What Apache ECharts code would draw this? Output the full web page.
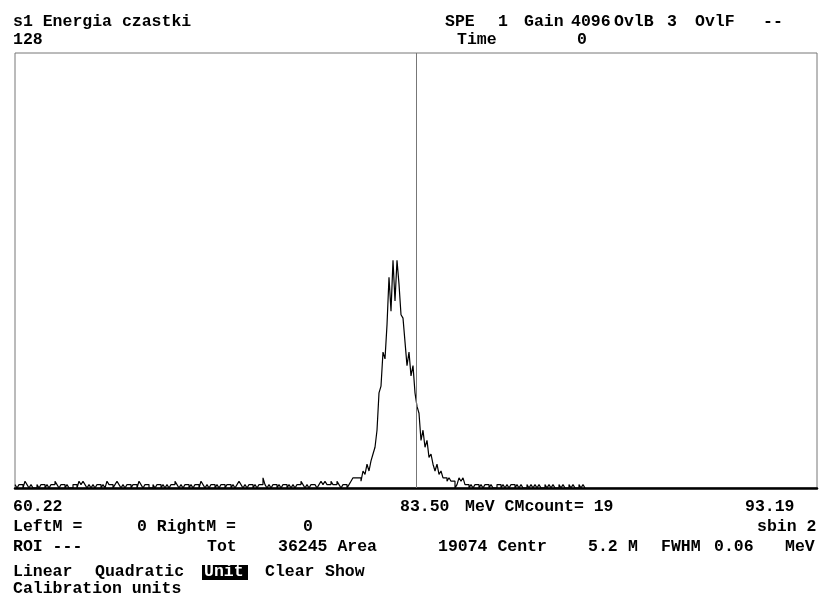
<!DOCTYPE html>
<html>
<head>
<meta charset="utf-8">
<script src="https://cdn.jsdelivr.net/npm/echarts@6/dist/echarts.min.js"></script>
<style>
  html, body { margin: 0; padding: 0; background: #fff; }
  #chart { width: 822px; height: 609px; }
</style>
</head>
<body>
<div id="chart"></div>
<script>
// widmo - kanaly (sbin 2), zliczenia
const bgCounts = [
  1,0,1,1,0,2,1,0,1,0,
  0,1,0,1,1,0,1,0,1,1,
  2,1,0,1,1,0,1,0,0,1,
  1,0,2,1,2,1,0,1,0,1,
  0,1,1,0,1,0,2,1,1,0,
  1,2,1,0,1,0,1,1,0,1,
  1,0,2,1,0,1,1,0,0,1,
  0,1,1,0,1,0,1,0,1,1,
  2,1,0,1,0,1,1,0,1,0,
  1,1,0,2,1,0,1,0,1,1,
  0,1,0,1,1,0,1,1,0,1,
  0,1,2,1,0,1,0,1,1,0,
  1,0,1,1,3,1,0,1,0,1,
  1,0,1,0,1,1,0,1,0,1,
  0,1,1,2,1,0,1,0,1,1,
  1,0,1,2,1,2,1,1,2,1
];
const peakCounts = [
  1,2,1,0,1,1,0,1,2,3,
  3,3,3,2,5,4,7,5,8,10,
  12,17,28,30,40,38,48,62,52,67,
  55,67,60,51,50,43,36,40,33,36,
  28,24,22,14,17,12,14,9,10,7,
  5,7,4,5,3,3,2,3,2,2,
  0,1,3,2,3,1,1,0
];
const tailCounts = [
  1,0,1,1,0,1,0,1,1,0,
  1,0,0,1,1,0,1,0,1,0,
  1,1,0,1,0,1,0,0,1,0,
  1,0,1,0,1,0,0,1,0,1,
  0,1,0,0,1,0,1,0,0,1,
  0,1,0,0,1,0,1
];
const counts = bgCounts.concat(peakCounts, tailCounts);
const binCount = 401;
const yMax = 128;
const cursorBin = 200.5;

// opisy
const titleText = 's1 Energia czastki';
const headerItems = ['SPE', '1', 'Gain', '4096', 'OvlB', '3', 'OvlF', '--'];
const timeItems = ['Time', '0'];
const energyLabels = ['60.22', '83.50', '93.19'];
const markerItems = ['LeftM =', '0 RightM =', '0', 'sbin 2'];
const roiItems = ['ROI ---', 'Tot', '36245 Area', '19074 Centr', '5.2', 'M', 'FWHM', '0.06', 'MeV'];
const menuItems = ['Linear', 'Quadratic', 'Unit', 'Clear', 'Show'];
const statusText = 'Calibration units';

const data = counts.map((v, i) => [i, v]);
data.push([counts.length, 0]);

const FONT = 'bold 16.5px "Liberation Mono", monospace';
function txt(text, x, y, fill) {
  return {
    type: 'text', x: x, y: y, z: 10,
    style: { text: text, font: FONT, fill: fill || '#000', align: 'left', verticalAlign: 'middle' }
  };
}

const chart = echarts.init(document.getElementById('chart'));
chart.setOption({
  animation: false,
  backgroundColor: '#fff',
  grid: {
    left: 15, right: 5, top: 53, bottom: 121,
    show: true, borderColor: '#777', borderWidth: 1
  },
  xAxis: {
    type: 'value', min: 0, max: binCount,
    axisLine: { show: true, onZero: true, lineStyle: { color: '#000', width: 2.5 } },
    axisTick: { show: false },
    axisLabel: { show: false },
    splitLine: { show: false }
  },
  yAxis: {
    type: 'value', min: 0, max: yMax,
    axisLine: { show: false },
    axisTick: { show: false },
    axisLabel: { show: false },
    splitLine: { show: false }
  },
  series: [{
    type: 'line',
    step: 'end',
    data: data,
    showSymbol: false,
    lineStyle: { color: '#000', width: 1.2 },
    markLine: {
      silent: true,
      symbol: 'none',
      label: { show: false },
      lineStyle: { color: '#777', width: 1, type: 'solid' },
      data: [{ xAxis: cursorBin }]
    }
  }],
  graphic: [
    txt(titleText, 13, 22),
    txt(String(yMax), 13, 40),
    txt(headerItems[0], 445, 22),
    txt(headerItems[1], 498, 22),
    txt(headerItems[2], 524, 22),
    txt(headerItems[3], 571, 22),
    txt(headerItems[4], 614, 22),
    txt(headerItems[5], 667, 22),
    txt(headerItems[6], 695, 22),
    txt(headerItems[7], 763, 22),
    txt(timeItems[0], 457, 40),
    txt(timeItems[1], 577, 40),

    txt(energyLabels[0], 13, 507),
    txt(energyLabels[1], 400, 507),
    txt('MeV CMcount= 19', 465, 507),
    txt(energyLabels[2], 745, 507),

    txt(markerItems[0], 13, 527),
    txt(markerItems[1], 137, 527),
    txt(markerItems[2], 303, 527),
    txt(markerItems[3], 757, 527),

    txt(roiItems[0], 13, 547),
    txt(roiItems[1], 207, 547),
    txt(roiItems[2], 278, 547),
    txt(roiItems[3], 438, 547),
    txt(roiItems[4], 588, 547),
    txt(roiItems[5], 628, 547),
    txt(roiItems[6], 661, 547),
    txt(roiItems[7], 714, 547),
    txt(roiItems[8], 785, 547),

    { type: 'rect', shape: { x: 202, y: 565, width: 46, height: 15 }, style: { fill: '#000' }, z: 9 },
    txt(menuItems[0], 13, 572),
    txt(menuItems[1], 95, 572),
    txt(menuItems[2], 204, 572, '#fff'),
    txt(menuItems[3], 265, 572),
    txt(menuItems[4], 325, 572),
    txt(statusText, 13, 589)
  ]
});
</script>
</body>
</html>
